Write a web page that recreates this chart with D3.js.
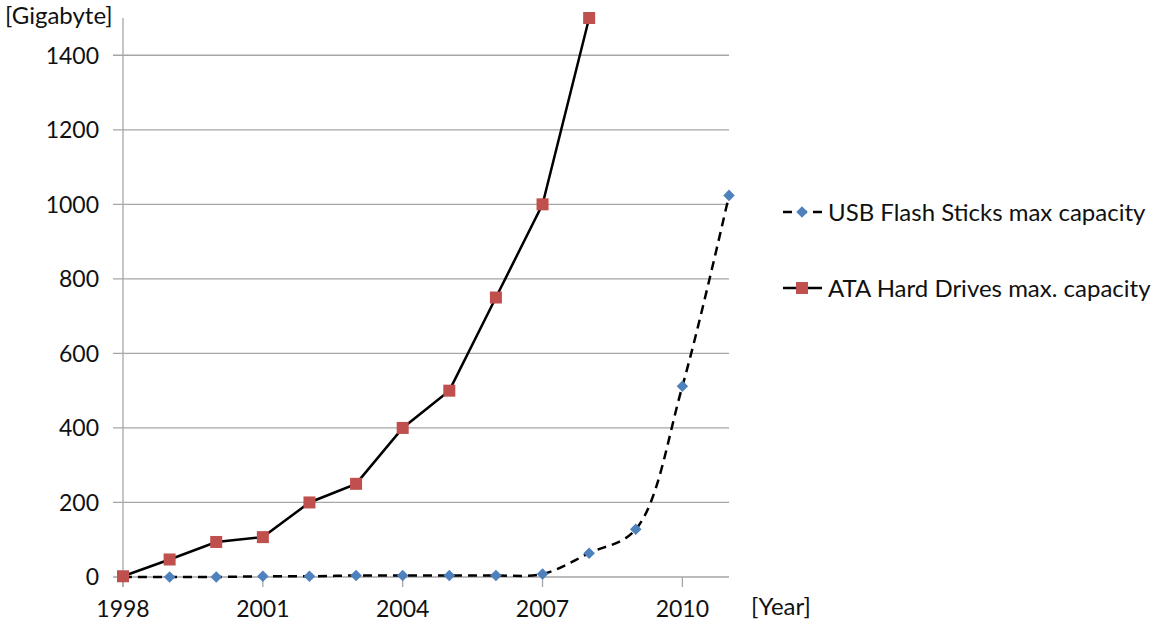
<!DOCTYPE html>
<html><head><meta charset="utf-8">
<script src="https://cdn.jsdelivr.net/npm/d3@7"></script>
<style>body{margin:0;background:#fff}svg{display:block}text{font-family:Lato,"Open Sans",sans-serif;fill:#111}</style>
</head><body><svg id="c" width="1154" height="623"></svg>
<script>
const years = [1998,1999,2000,2001,2002,2003,2004,2005,2006,2007,2008,2009,2010,2011];
const usbValues = [0.008,0.016,0.032,2,2,4,4,4,4,8,64,128,512,1024];
const hddYears = [1998,1999,2000,2001,2002,2003,2004,2005,2006,2007,2008];
const hddValues = [2,47,94,107,200,250,400,500,750,1000,1500];
const yTicks = [0,200,400,600,800,1000,1200,1400];
const xTicks = [1998,2001,2004,2007,2010];
const seriesNames = ["USB Flash Sticks max capacity","ATA Hard Drives max. capacity"];
const yLabel = "[Gigabyte]", xLabel = "[Year]";

const svg = d3.select("#c");
const x = d3.scaleLinear().domain([1998,2011]).range([123,729]);
const y = d3.scaleLinear().domain([0,1500]).range([577,18]);
const gridCol = "#a6a6a6";

// gridlines
svg.append("g").selectAll("line").data(yTicks.filter(d=>d>0)).join("line")
  .attr("x1",113).attr("x2",729).attr("y1",d=>y(d)).attr("y2",d=>y(d))
  .attr("stroke",gridCol).attr("stroke-width",1.3);
// y axis
svg.append("line").attr("x1",x(1998)).attr("x2",x(1998)).attr("y1",y(1500)).attr("y2",587)
  .attr("stroke",gridCol).attr("stroke-width",1.3);
// x axis
svg.append("line").attr("x1",113).attr("x2",729).attr("y1",y(0)).attr("y2",y(0))
  .attr("stroke",gridCol).attr("stroke-width",1.3);
svg.append("g").selectAll("line").data(xTicks).join("line")
  .attr("x1",d=>x(d)).attr("x2",d=>x(d)).attr("y1",y(0)).attr("y2",587)
  .attr("stroke",gridCol).attr("stroke-width",1.3);

// tick labels
svg.append("g").selectAll("text").data(yTicks).join("text")
  .attr("x",99).attr("y",d=>y(d)).attr("dy","0.36em").attr("text-anchor","end")
  .attr("font-size",23).text(d=>d);
svg.append("g").selectAll("text").data(xTicks).join("text")
  .attr("x",d=>x(d)).attr("y",617).attr("text-anchor","middle")
  .attr("font-size",23).text(d=>d);
svg.append("text").attr("x",5).attr("y",24).attr("font-size",24).text(yLabel);
svg.append("text").attr("x",751).attr("y",615).attr("font-size",24).text(xLabel);

// USB series (smoothed, dashed)
const usb = years.map((yr,i)=>({x:yr,v:usbValues[i]}));
const hdd = hddYears.map((yr,i)=>({x:yr,v:hddValues[i]}));
svg.append("path").datum(usb)
  .attr("d",d3.line().x(d=>x(d.x)).y(d=>y(d.v)).curve(d3.curveCatmullRom.alpha(0.5)))
  .attr("fill","none").attr("stroke","#000").attr("stroke-width",2.5).attr("stroke-dasharray","9,6");
// HDD series
svg.append("path").datum(hdd)
  .attr("d",d3.line().x(d=>x(d.x)).y(d=>y(d.v)))
  .attr("fill","none").attr("stroke","#000").attr("stroke-width",2.5);

const diamond = d3.symbol().type(d3.symbolDiamond2).size(85);
svg.append("g").selectAll("path").data(usb).join("path")
  .attr("transform",d=>`translate(${x(d.x)},${y(d.v)})`)
  .attr("d",diamond()).attr("fill","#4f81bd");
svg.append("g").selectAll("rect").data(hdd).join("rect")
  .attr("x",d=>x(d.x)-6).attr("y",d=>y(d.v)-6).attr("width",12).attr("height",12)
  .attr("fill","#c0504d");

// legend
const lg = svg.append("g");
const rows = [212,288];
lg.append("line").attr("x1",783).attr("x2",826).attr("y1",rows[0]).attr("y2",rows[0])
  .attr("stroke","#000").attr("stroke-width",2.5).attr("stroke-dasharray","9,6");
lg.append("path").attr("transform",`translate(802,${rows[0]})`).attr("d",diamond()).attr("fill","#4f81bd");
lg.append("line").attr("x1",783).attr("x2",822).attr("y1",rows[1]).attr("y2",rows[1])
  .attr("stroke","#000").attr("stroke-width",2.5);
lg.append("rect").attr("x",796).attr("y",rows[1]-6).attr("width",12).attr("height",12).attr("fill","#c0504d");
lg.selectAll("text").data(seriesNames).join("text")
  .attr("x",828).attr("y",(d,i)=>rows[i]).attr("dy","0.36em").attr("font-size",24).text(d=>d);
</script></body></html>
